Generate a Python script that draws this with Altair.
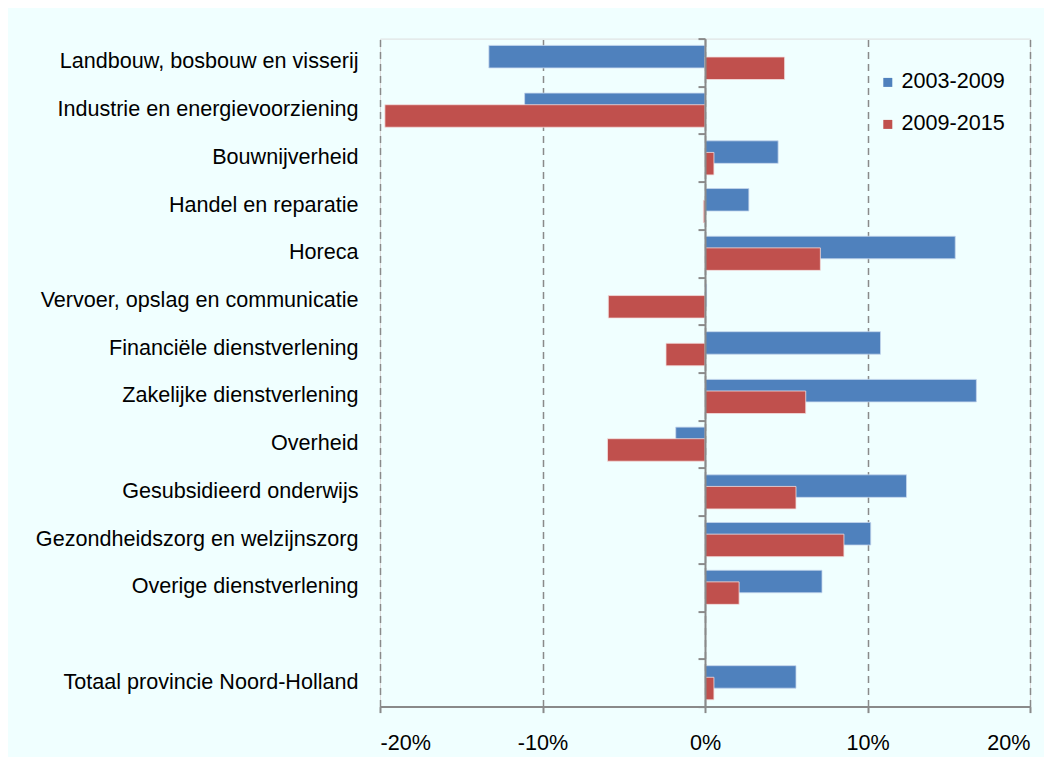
import altair as alt
import pandas as pd

categories = [
    "Landbouw, bosbouw en visserij",
    "Industrie en energievoorziening",
    "Bouwnijverheid",
    "Handel en reparatie",
    "Horeca",
    "Vervoer, opslag en communicatie",
    "Financiële dienstverlening",
    "Zakelijke dienstverlening",
    "Overheid",
    "Gesubsidieerd onderwijs",
    "Gezondheidszorg en welzijnszorg",
    "Overige dienstverlening",
    " ",
    "Totaal provincie Noord-Holland",
]
series = ["2003-2009", "2009-2015"]
v_2003_2009 = [-13.3, -11.1, 4.5, 2.7, 15.4, 0.1, 10.8, 16.7, -1.8, 12.4, 10.2, 7.2, None, 5.6]
v_2009_2015 = [4.9, -19.7, 0.55, -0.1, 7.1, -5.95, -2.4, 6.2, -6.0, 5.6, 8.55, 2.1, None, 0.55]
x_ticks = [-20, -10, 0, 10, 20]
colors = ["#4F81BD", "#C0504D"]

rows = []
for c, a, b in zip(categories, v_2003_2009, v_2009_2015):
    rows.append({"cat": c, "period": series[0], "value": a})
    rows.append({"cat": c, "period": series[1], "value": b})
df = pd.DataFrame(rows)

FONT = "Liberation Sans"
GRAY = "#8a8a8a"
FS = 21.6

x_enc = alt.X(
    "value:Q",
    scale=alt.Scale(domain=[-20, 20], nice=False, zero=False),
    axis=alt.Axis(
        values=x_ticks,
        labelExpr="datum.value + '%'",
        title=None,
        grid=True,
        gridColor=GRAY,
        gridDash=[7, 5],
        gridWidth=1.5,
        domainColor=GRAY,
        domainWidth=2,
        tickColor=GRAY,
        tickWidth=2,
        tickSize=6,
        labelFontSize=FS,
        labelColor="black",
        labelPadding=20,
        labelFont=FONT,
    ),
)

color_enc = alt.Color(
    "period:N",
    scale=alt.Scale(domain=series, range=colors),
    legend=alt.Legend(
        title=None,
        orient="none",
        legendX=497,
        legendY=33,
        symbolType="square",
        symbolSize=81,
        symbolStrokeWidth=0,
        labelFontSize=FS,
        labelFont=FONT,
        labelColor="black",
        labelOffset=3,
        rowPadding=19,
        padding=0,
    ),
)

y_scale = alt.Scale(domain=categories, paddingInner=0, paddingOuter=0)

blue = (
    alt.Chart(df)
    .transform_filter(alt.datum.period == series[0])
    .transform_filter("datum.value != null")
    .mark_bar(height=22.5, yOffset=-5.8, stroke="#c5d6ec", strokeWidth=0.8)
    .encode(
        y=alt.Y(
            "cat:N",
            scale=y_scale,
            sort=categories,
            axis=alt.Axis(
                title=None,
                orient="left",
                domain=False,
                ticks=False,
                grid=False,
                labelFontSize=FS,
                labelFont=FONT,
                labelColor="black",
                labelPadding=22,
                labelLimit=600,
            ),
        ),
        x=x_enc,
        color=color_enc,
    )
)

red = (
    alt.Chart(df)
    .transform_filter(alt.datum.period == series[1])
    .transform_filter("datum.value != null")
    .mark_bar(height=22.5, yOffset=5.8, stroke="#f2dede", strokeWidth=0.8)
    .encode(
        y=alt.Y(
            "cat:N",
            scale=y_scale,
            sort=categories,
            axis=alt.Axis(
                title=None,
                orient="left",
                offset=-325,
                labels=False,
                domain=True,
                domainColor=GRAY,
                domainWidth=2,
                ticks=True,
                tickBand="extent",
                tickColor=GRAY,
                tickWidth=2,
                tickSize=7,
                grid=False,
                zindex=1,
            ),
        ),
        x=x_enc,
        color=color_enc,
    )
)

chart = (
    alt.layer(blue, red)
    .resolve_axis(y="independent")
    .resolve_scale(y="shared")
    .properties(
        width=650,
        height=668,
        autosize=alt.AutoSizeParams(type="none"),
        padding={"left": 372, "top": 30.6, "right": 14, "bottom": 50},
        background="#F0FFFF",
    )
    .configure_view(stroke=None)
    .configure(font=FONT)
)

chart.save("out.html", embed_options={"renderer": "svg", "actions": False})
